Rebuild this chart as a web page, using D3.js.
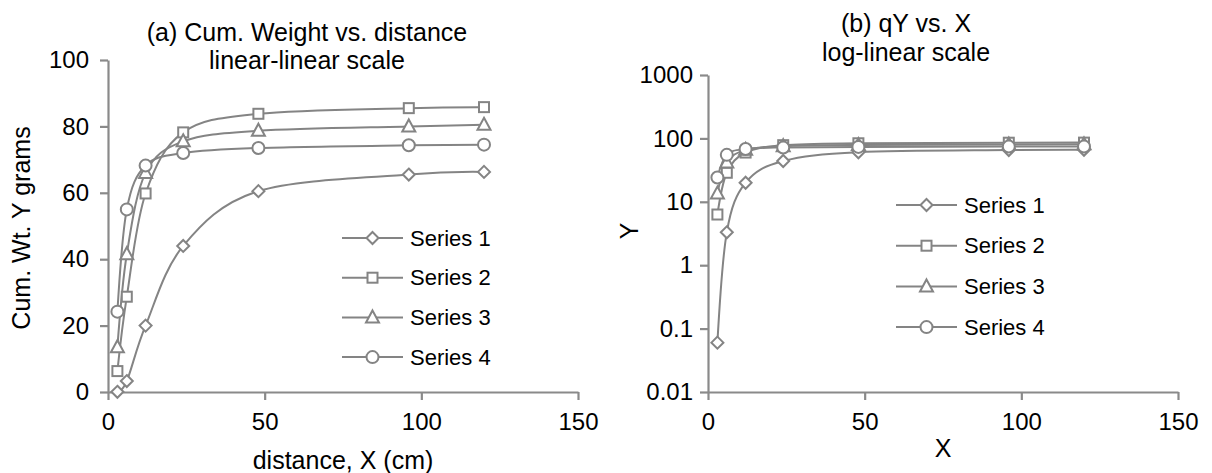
<!DOCTYPE html>
<html>
<head>
<meta charset="utf-8">
<script src="https://cdn.jsdelivr.net/npm/d3@7/dist/d3.min.js"></script>
<style>
  html, body { margin: 0; padding: 0; background: #fff; }
  svg { display: block; font-family: "Liberation Sans", Arial, sans-serif; }
</style>
</head>
<body>
<svg id="chart" width="1212" height="473"></svg>
<script>
const xValues = [3, 6, 12, 24, 48, 96, 120];
const series1 = [0.06, 3.3, 20, 44, 60.5, 65.5, 66.3];
const series2 = [6.3, 28.7, 59.8, 78.2, 83.8, 85.5, 85.8];
const series3 = [13.5, 41.5, 66, 75.5, 78.7, 80, 80.5];
const series4 = [24.2, 55, 68.2, 72, 73.5, 74.3, 74.5];
const seriesNames = ["Series 1", "Series 2", "Series 3", "Series 4"];
const seriesShapes = ["diamond", "square", "triangle", "circle"];
const xTicks = [0, 50, 100, 150];
const yTicksLin = [0, 20, 40, 60, 80, 100];
const yTicksLog = [0.01, 0.1, 1, 10, 100, 1000];
const yTickLabelsLog = ["0.01", "0.1", "1", "10", "100", "1000"];

const allSeries = [series1, series2, series3, series4];
const grey = "#848484";
const axisGrey = "#8a8a8a";

const svg = d3.select("#chart");

function marker(g, shape, cx, cy) {
  if (shape === "diamond") {
    g.append("path").attr("d", `M${cx},${cy-6}L${cx+6},${cy}L${cx},${cy+6}L${cx-6},${cy}Z`);
  } else if (shape === "square") {
    g.append("rect").attr("x", cx-5).attr("y", cy-5).attr("width", 10).attr("height", 10);
  } else if (shape === "triangle") {
    g.append("path").attr("d", `M${cx},${cy-7}L${cx+6.5},${cy+5}L${cx-6.5},${cy+5}Z`);
  } else {
    g.append("circle").attr("cx", cx).attr("cy", cy).attr("r", 6);
  }
}

function panel(opts) {
  const g = svg.append("g");
  const x = d3.scaleLinear().domain([0, 150]).range([opts.x0, opts.x1]);
  const y = opts.log
    ? d3.scaleLog().domain([0.01, 1000]).range([opts.y1, opts.y0])
    : d3.scaleLinear().domain([0, 100]).range([opts.y1, opts.y0]);

  // axes
  const xAxis = d3.axisBottom(x).tickValues(xTicks).tickSize(8).tickPadding(13).tickSizeOuter(0);
  const gx = g.append("g").attr("transform", `translate(0,${opts.y1})`).call(xAxis);
  const yAxis = d3.axisLeft(y).tickValues(opts.log ? yTicksLog : yTicksLin).tickSize(8).tickPadding(opts.yPad).tickSizeOuter(0);
  if (opts.log) yAxis.tickFormat((d, i) => yTickLabelsLog[i]);
  const gy = g.append("g").attr("transform", `translate(${opts.x0},0)`).call(yAxis);
  [gx, gy].forEach(a => {
    a.selectAll("path.domain").attr("stroke", axisGrey).attr("stroke-width", 2.2);
    a.selectAll(".tick line").attr("stroke", axisGrey).attr("stroke-width", 2.2);
    a.selectAll(".tick text").attr("fill", "#000").style("font-size", "24px")
      .style("font-family", "'Liberation Sans', Arial, sans-serif");
  });

  // series
  const line = d3.line().x((d, i) => x(xValues[i])).y(d => y(d)).curve(d3.curveCardinal.tension(0));
  allSeries.forEach((vals, si) => {
    g.append("path").datum(vals).attr("d", line)
      .attr("fill", "none").attr("stroke", grey).attr("stroke-width", 2);
  });
  allSeries.forEach((vals, si) => {
    const mg = g.append("g").attr("fill", "#fff").attr("stroke", grey).attr("stroke-width", 2);
    vals.forEach((v, i) => marker(mg, seriesShapes[si], x(xValues[i]), y(v)));
  });

  // legend
  seriesNames.forEach((name, i) => {
    const ly = opts.legY + i * opts.legStep;
    g.append("line").attr("x1", opts.legX).attr("x2", opts.legX + 61).attr("y1", ly).attr("y2", ly)
      .attr("stroke", grey).attr("stroke-width", 2);
    const mg = g.append("g").attr("fill", "#fff").attr("stroke", grey).attr("stroke-width", 2);
    marker(mg, seriesShapes[i], opts.legX + 30.5, ly);
    g.append("text").attr("x", opts.legX + 68).attr("y", ly).attr("dy", "0.35em")
      .style("font-size", "22px").attr("fill", "#000").text(name);
  });

  // titles
  opts.title.forEach((t, i) => {
    g.append("text").attr("x", opts.titleX).attr("y", opts.titleY + i * 28.5).attr("dy", "0.35em")
      .attr("text-anchor", "middle").style("font-size", "25px").attr("fill", "#000").text(t);
  });
  // axis titles
  g.append("text").attr("x", (opts.x0 + opts.x1) / 2).attr("y", opts.xLabelY).attr("dy", "0.35em")
    .attr("text-anchor", "middle").style("font-size", "25px").text(opts.xLabel);
  g.append("text").attr("transform", `translate(${opts.yLabelX},${opts.yLabelY}) rotate(-90)`)
    .attr("dy", "0.35em")
    .attr("text-anchor", "middle").style("font-size", "25px").text(opts.yLabel);
}

panel({
  x0: 108, x1: 578, y0: 60, y1: 392, log: false, yPad: 11,
  legX: 342, legY: 238, legStep: 39.7,
  title: ["(a) Cum. Weight vs. distance", "linear-linear scale"], titleX: 307, titleY: 32,
  xLabel: "distance, X (cm)", xLabelY: 460, yLabel: "Cum. Wt. Y grams", yLabelX: 21, yLabelY: 228
});
panel({
  x0: 708, x1: 1178, y0: 75, y1: 392, log: true, yPad: 7,
  legX: 896, legY: 205, legStep: 40.7,
  title: ["(b) qY vs. X", "log-linear scale"], titleX: 906, titleY: 23.5,
  xLabel: "X", xLabelY: 448, yLabel: "Y", yLabelX: 629, yLabelY: 231
});
</script>
</body>
</html>
